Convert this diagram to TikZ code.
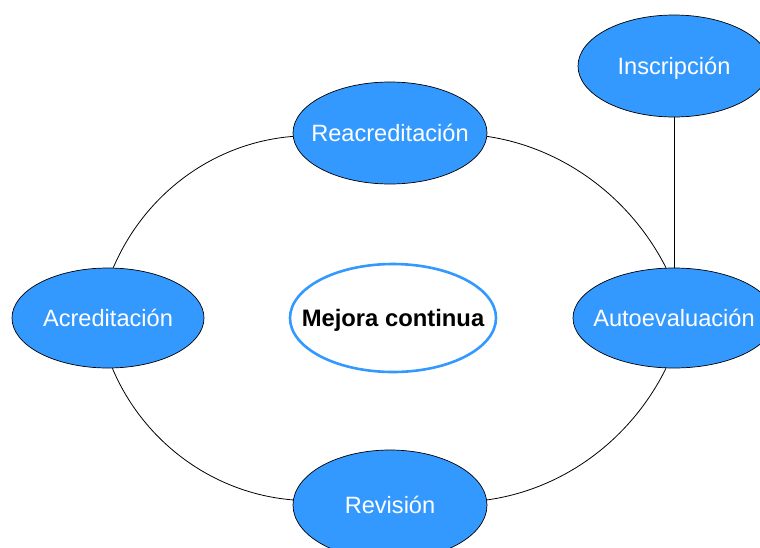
\documentclass[tikz,border=0pt]{standalone}
\usepackage{fontspec}
\setmainfont{Liberation Sans}
\usetikzlibrary{shapes.geometric}
\definecolor{nodeblue}{RGB}{51,153,255}
\tikzset{
  stage/.style={ellipse, draw=black, line width=0.7pt, fill=nodeblue, text=white, inner sep=0pt,
    font=\fontsize{23.6}{28}\selectfont},
  center/.style={ellipse, draw=nodeblue, line width=2.6pt, fill=white, text=black, inner sep=0pt,
    font=\fontsize{23.8}{28}\selectfont\bfseries},
  link/.style={draw=black, line width=0.8pt}
}
\newcommand{\lbl}[1]{\makebox[0pt]{\rule[-8pt]{0pt}{32pt}#1}}
\begin{document}
\begin{tikzpicture}[x=1pt,y=-1pt]
\useasboundingbox (0,0) rectangle (760,547);
\clip (0,0) rectangle (760,547);
\fill[white] (0,0) rectangle (760,547);
\node[stage, minimum width=192pt, minimum height=102pt] (insc) at (674,66) {\lbl{Inscripción}};
\node[stage, minimum width=194pt, minimum height=102pt] (reac) at (390,133) {\lbl{Reacreditación}};
\node[stage, minimum width=192pt, minimum height=100pt] (acr) at (108,318) {\lbl{Acreditación}};
\node[center, minimum width=206pt, minimum height=108pt] (mej) at (393,318) {\lbl{Mejora continua}};
\node[stage, minimum width=202pt, minimum height=100pt] (auto) at (674,318) {\lbl{Autoevaluación}};
\node[stage, minimum width=194pt, minimum height=110pt] (rev) at (390,505) {\lbl{Revisión}};
\draw[link] (reac.182) to[out=184.6,in=66.9,looseness=0.92] (acr.84);
\draw[link] (reac.358) to[out=-8.5,in=116.9,looseness=0.90] (auto.99);
\draw[link] (auto.261) to[out=243.7,in=7.9,looseness=0.905] (rev.3);
\draw[link] (acr.275) to[out=-67.1,in=175.4,looseness=0.916] (rev.177);
\draw[link] (insc.south) -- (auto.north);
\end{tikzpicture}
\end{document}
